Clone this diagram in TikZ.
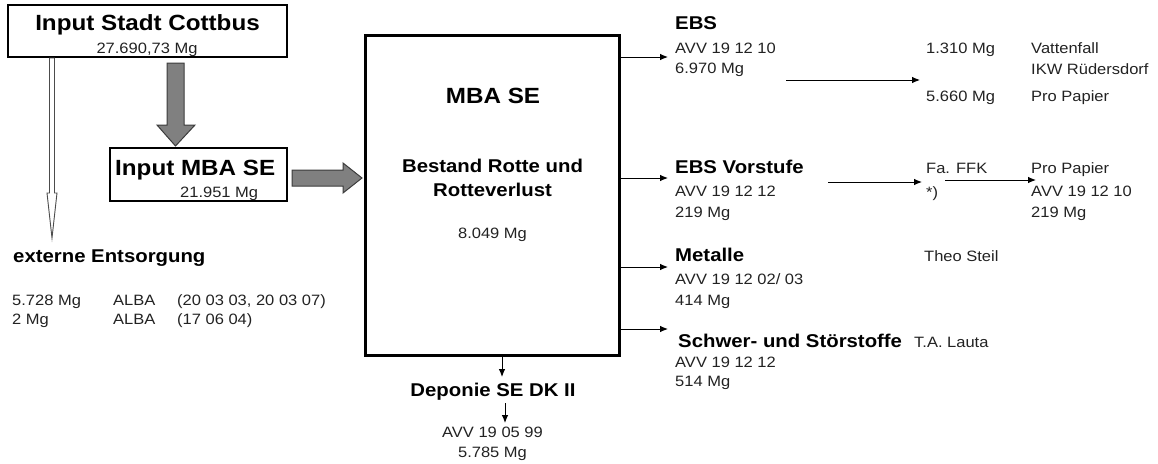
\documentclass[tikz,border=0pt]{standalone}
\usepackage{fontspec}
\setmainfont[FakeStretch=1.1]{Liberation Sans}
\usetikzlibrary{arrows.meta}
\definecolor{blockgray}{HTML}{808080}
\definecolor{blockline}{HTML}{3C3C3C}
\definecolor{txtgray}{HTML}{222222}
\begin{document}
\begin{tikzpicture}[x=1pt,y=-1pt,
  txt/.style={inner sep=0pt, anchor=base west, text=txtgray, font=\fontsize{15}{18}\selectfont},
  ctxt/.style={txt, anchor=base},
  hd/.style={inner sep=0pt, anchor=base west, font=\fontsize{18.5}{22}\selectfont\bfseries},
  chd/.style={hd, anchor=base},
  ttl/.style={inner sep=0pt, anchor=base, font=\fontsize{22}{26}\selectfont\bfseries},
  ttlw/.style={ttl, anchor=base west},
  box/.style={draw, line width=2.2pt, inner sep=0pt},
  flow/.style={-{Latex[length=8pt,width=6.5pt]}, line width=0.9pt},
  block/.style={fill=blockgray, draw=blockline, line width=1pt, line join=miter},
  hollow/.style={fill=white, draw=black!70, line width=0.9pt}
]
\useasboundingbox (0,0) rectangle (1158,463);

% --- boxes
\node[box, minimum width=279pt, minimum height=52pt] (in1) at (147.5,31) {};
\node[box, minimum width=177pt, minimum height=53pt] (in2) at (198.5,174.5) {};
\node[box, line width=3pt, minimum width=254pt, minimum height=320pt] (mba) at (492,195) {};

% --- texts of boxes
\node[ttl] (t1) at (147.5,30) {Input Stadt Cottbus};
\node[ctxt] (t1m) at (147,53) {27.690,73 Mg};
\node[ttlw] (t2) at (115,175) {Input MBA SE};
\node[txt] (t2m) at (180,197) {21.951 Mg};
\node[ttl] (tm) at (493,103) {MBA SE};
\node[chd] (tb1) at (492.5,172) {Bestand Rotte und};
\node[chd] (tb2) at (492.5,196) {Rotteverlust};
\node[ctxt] (tbm) at (492.5,238) {8.049 Mg};

% --- block arrows
\draw[block] (167,63) -- (184,63) -- (184,125) -- (195,125) -- (175.5,146) -- (157,125) -- (167,125) -- cycle;
\draw[block] (292,170) -- (343,170) -- (343,163) -- (362,178) -- (343,193) -- (343,186) -- (292,186) -- cycle;
\draw[hollow] (49.5,58) -- (54.5,58) -- (54.5,193) -- (57,193) -- (52,238) -- (47,193) -- (49.5,193) -- cycle;

% --- externe Entsorgung
\node[hd] (ext) at (13,262) {externe Entsorgung};
\node[txt] (x1a) at (12,305) {5.728 Mg};
\node[txt] (x1b) at (113,305) {ALBA};
\node[txt] (x1c) at (177,305) {(20 03 03, 20 03 07)};
\node[txt] (x2a) at (12,324) {2 Mg};
\node[txt] (x2b) at (113,324) {ALBA};
\node[txt] (x2c) at (177,324) {(17 06 04)};

% --- Deponie
\coordinate (d1) at (502,377);
\draw[flow] (mba.south -| d1) -- (d1);
\node[chd] (dep) at (493,396) {Deponie SE DK II};
\coordinate (d2s) at (505,403);
\coordinate (d2e) at (505,423);
\draw[flow] (d2s) -- (d2e);
\node[ctxt] (dep1) at (492.5,437) {AVV 19 05 99};
\node[ctxt] (dep2) at (492.5,457) {5.785 Mg};

% --- outputs of MBA
\coordinate (e1) at (668,57);
\coordinate (e2) at (668,178);
\coordinate (e3) at (668,267);
\coordinate (e4) at (668,329);
\foreach \e in {e1,e2,e3,e4} \draw[flow] (mba.east |- \e) -- (\e);

% EBS
\node[hd] (ebs) at (675,29) {EBS};
\node[txt] (ebs1) at (675,53) {AVV 19 12 10};
\node[txt] (ebs2) at (675,73) {6.970 Mg};
\coordinate (a1s) at (786,80);
\coordinate (a1e) at (920,80);
\draw[flow] (a1s) -- (a1e);
\node[txt] (m1) at (926,53) {1.310 Mg};
\node[txt] (m2) at (926,101) {5.660 Mg};
\node[txt] (r1) at (1031,53) {Vattenfall};
\node[txt] (r2) at (1031,74) {IKW Rüdersdorf};
\node[txt] (r3) at (1031,101) {Pro Papier};

% EBS Vorstufe
\node[hd] (ebv) at (675,173) {EBS Vorstufe};
\node[txt] (ebv1) at (675,196) {AVV 19 12 12};
\node[txt] (ebv2) at (675,217) {219 Mg};
\coordinate (a2s) at (828,182);
\coordinate (a2e) at (922,182);
\draw[flow] (a2s) -- (a2e);
\node[txt] (ffk) at (926,173) {Fa. FFK};
\node[txt] (ffk2) at (926,197) {*)};
\coordinate (a3s) at (945,180);
\coordinate (a3e) at (1036,180);
\draw[flow] (a3s) -- (a3e);
\node[txt] (pp1) at (1031,173) {Pro Papier};
\node[txt] (pp2) at (1031,196) {AVV 19 12 10};
\node[txt] (pp3) at (1031,217) {219 Mg};

% Metalle
\node[hd] (met) at (675,261) {Metalle};
\node[txt] (met1) at (675,284) {AVV 19 12 02/ 03};
\node[txt] (met2) at (675,305) {414 Mg};
\node[txt] (theo) at (924,261) {Theo Steil};

% Schwer- und Stoerstoffe
\node[hd] (sch) at (678,347) {Schwer- und Störstoffe};
\node[txt] (sch1) at (675,367) {AVV 19 12 12};
\node[txt] (sch2) at (675,386) {514 Mg};
\node[txt] (lauta) at (914,347) {T.A. Lauta};
\end{tikzpicture}
\end{document}
